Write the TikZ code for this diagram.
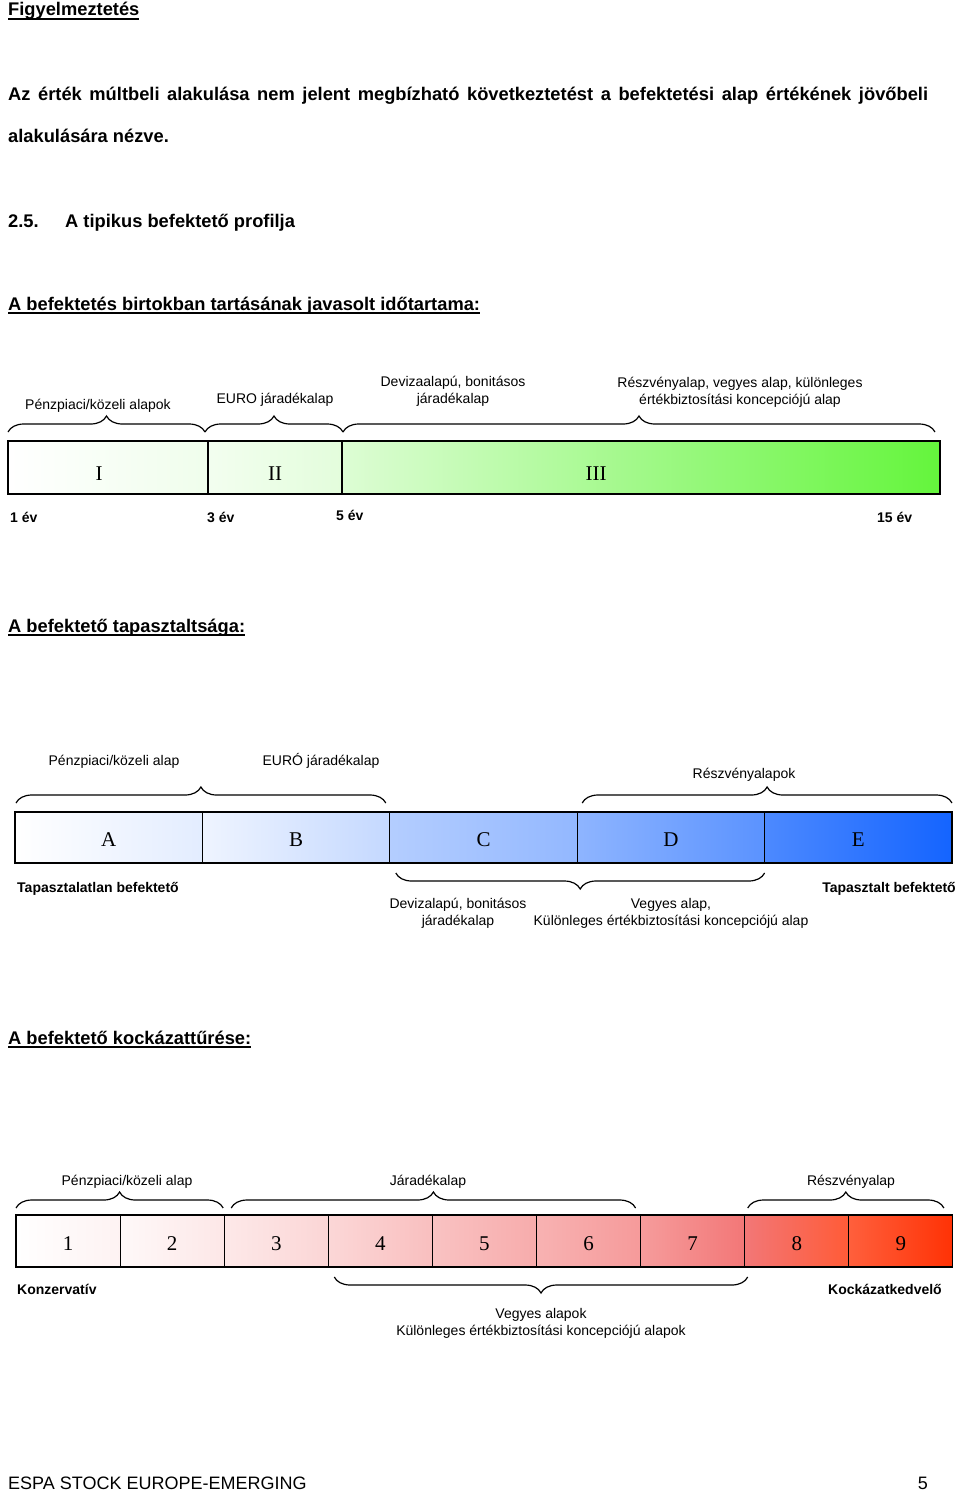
\documentclass[tikz,border=0pt]{standalone}
\usepackage{fontspec}
\usepackage{xcolor}
\usepackage{tikz}
\usetikzlibrary{positioning,decorations.pathreplacing}
\setmainfont{Liberation Sans}
\newfontfamily\timesfont{Liberation Serif}
\definecolor{grnend}{RGB}{100,245,60}
\definecolor{bluend}{RGB}{20,100,255}
\definecolor{redmid}{RGB}{240,95,95}
\definecolor{redend}{RGB}{255,50,5}
\newcommand{\headfont}{\fontsize{18.3}{22}\selectfont\bfseries}
\newcommand{\lblfont}{\fontsize{14}{16.5}\selectfont}
\newcommand{\numfont}{\timesfont\fontsize{21}{24}\selectfont}
\newcommand{\undertext}[1]{\setbox0\hbox{#1}\rlap{\copy0}\rule[-3.5pt]{\wd0}{1.4pt}}
\tikzset{
  head/.style={font=\headfont, inner sep=0pt, anchor=base west},
  lbl/.style={font=\lblfont, align=center, inner sep=0pt, anchor=base},
  blbl/.style={font=\lblfont\bfseries, inner sep=0pt},
  numlbl/.style={font=\numfont, inner sep=0pt, anchor=base},
  cell/.style={draw, line width=1.1pt, outer sep=0pt, inner sep=0pt,
    font=\numfont, text height=18pt, text depth=0pt},
  durcell/.style={cell, minimum height=53pt},
  expcell/.style={cell, minimum height=51pt, minimum width=187.4pt},
  riskcell/.style={cell, minimum height=52pt, minimum width=104.1pt},
  brace/.style={decorate, decoration={brace, amplitude=16pt}, line width=1.2pt},
  bracedown/.style={decorate, decoration={brace, mirror, amplitude=16pt},
    line width=1.2pt}
}

\begin{document}
\begin{tikzpicture}[x=1pt, y=-1pt]
  \useasboundingbox (0,0) rectangle (960,1491);
  \node[head] (warn) at (8,16) {\undertext{Figyelmeztetés}};
  \node[head] (warn1) at (8,100)
    {\makebox[920pt][s]{Az érték múltbeli alakulása nem jelent megbízható következtetést a befektetési alap értékének jövőbeli}};
  \node[head] (warn2) at (8,142) {alakulására nézve.};
  \node[head] (secnum) at (8,227) {2.5.};
  \node[head] (sectitle) at (65,227) {A tipikus befektető profilja};

  \node[head] (durtitle) at (8,310)
    {\undertext{A befektetés birtokban tartásának javasolt időtartama:}};
  \node[lbl] (durlA) at (98,409) {Pénzpiaci/közeli alapok};
  \node[lbl] (durlB) at (275,403) {EURO járadékalap};
  \node[lbl] (durlC) at (453,403) {Devizaalapú, bonitásos\\járadékalap};
  \node[lbl] (durlD) at (740,404)
    {Részvényalap, vegyes alap, különleges\\értékbiztosítási koncepciójú alap};
  \node[durcell, minimum width=200pt, anchor=north west,
    left color=white, right color=grnend!10] (dI) at (8,441) {};
  \node[durcell, minimum width=134pt, right=0pt of dI,
    left color=grnend!8, right color=grnend!18] (dII) {};
  \node[durcell, minimum width=598pt, right=0pt of dII,
    left color=grnend!22, right color=grnend] (dIII) {};
  \node[numlbl] (nI) at (99,480) {I};
  \node[numlbl] (nII) at (275,480) {II};
  \node[numlbl] (nIII) at (596,480) {III};
  \draw[brace] ([yshift=9pt]dI.north west) -- ([xshift=-3pt,yshift=9pt]dI.north east);
  \draw[brace] ([xshift=-3pt,yshift=9pt]dI.north east) -- ([xshift=1pt,yshift=9pt]dII.north east);
  \draw[brace] ([xshift=1pt,yshift=9pt]dII.north east) -- ([xshift=-5pt,yshift=9pt]dIII.north east);
  \node[blbl, anchor=base west] (yr1) at (10,522) {1 év};
  \node[blbl, anchor=base west] (yr3) at (207,522) {3 év};
  \node[blbl, anchor=base west] (yr5) at (336,520) {5 év};
  \node[blbl, anchor=base west] (yr15) at (877,522) {15 év};

  \node[head] (exptitle) at (8,632) {\undertext{A befektető tapasztaltsága:}};
  \node[lbl] (explA) at (114,765) {Pénzpiaci/közeli alap};
  \node[lbl] (explB) at (321,765) {EURÓ járadékalap};
  \node[lbl] (explE) at (744,778) {Részvényalapok};
  \node[expcell, anchor=north west, left color=white, right color=bluend!12] (tA) at (15,812) {A};
  \node[expcell, right=0pt of tA, left color=bluend!7, right color=bluend!25] (tB) {B};
  \node[expcell, right=0pt of tB, left color=bluend!32, right color=bluend!46] (tC) {C};
  \node[expcell, right=0pt of tC, left color=bluend!48, right color=bluend!70] (tD) {D};
  \node[expcell, right=0pt of tD, left color=bluend!76, right color=bluend] (tE) {E};
  \draw[brace] ([xshift=1pt,yshift=9pt]tA.north west) -- ([xshift=-4pt,yshift=9pt]tB.north east);
  \draw[brace] ([xshift=5pt,yshift=9pt]tD.north west) -- ([yshift=9pt]tE.north east);
  \draw[bracedown] ([xshift=6pt,yshift=-10pt]tC.south west) -- ([yshift=-10pt]tD.south east);
  \node[blbl, anchor=base west] (novice) at (17,892) {Tapasztalatlan befektető};
  \node[blbl, anchor=base east] (expert) at (956,892) {Tapasztalt befektető};
  \node[lbl] (explC) at (458,925) {Devizalapú, bonitásos\\járadékalap};
  \node[lbl] (explD) at (671,925)
    {Vegyes alap,\\Különleges értékbiztosítási koncepciójú alap};

  \node[head] (risktitle) at (8,1044) {\undertext{A befektető kockázattűrése:}};
  \node[lbl] (risklA) at (127,1185) {Pénzpiaci/közeli alap};
  \node[lbl] (risklB) at (428,1185) {Járadékalap};
  \node[lbl] (risklC) at (851,1185) {Részvényalap};
  \node[riskcell, anchor=north west, left color=white, right color=redmid!8] (r1) at (16,1215) {1};
  \node[riskcell, right=0pt of r1, left color=redmid!4, right color=redmid!15] (r2) {2};
  \node[riskcell, right=0pt of r2, left color=redmid!14, right color=redmid!26] (r3) {3};
  \node[riskcell, right=0pt of r3, left color=redmid!25, right color=redmid!40] (r4) {4};
  \node[riskcell, right=0pt of r4, left color=redmid!38, right color=redmid!52] (r5) {5};
  \node[riskcell, right=0pt of r5, left color=redmid!48, right color=redmid!63] (r6) {6};
  \node[riskcell, right=0pt of r6, left color=redmid!62, right color=redmid!85] (r7) {7};
  \node[riskcell, right=0pt of r7, left color=redmid!85, right color=redend!80] (r8) {8};
  \node[riskcell, right=0pt of r8, left color=redend!78, right color=redend] (r9) {9};
  \draw[brace] ([yshift=7pt]r1.north west) -- ([xshift=-1pt,yshift=7pt]r2.north east);
  \draw[brace] ([xshift=7pt,yshift=7pt]r3.north west) -- ([xshift=-5pt,yshift=7pt]r6.north east);
  \draw[brace] ([xshift=3pt,yshift=7pt]r8.north west) -- ([xshift=-9pt,yshift=7pt]r9.north east);
  \draw[bracedown] ([xshift=6pt,yshift=-10pt]r4.south west) -- ([xshift=3pt,yshift=-10pt]r7.south east);
  \node[blbl, anchor=base west] (conserv) at (17,1294) {Konzervatív};
  \node[blbl, anchor=base east] (riskseek) at (942,1294) {Kockázatkedvelő};
  \node[lbl] (risklD) at (541,1335)
    {Vegyes alapok\\Különleges értékbiztosítási koncepciójú alapok};

  \node[font=\fontsize{18}{20}\selectfont, inner sep=0pt, anchor=base west] (foot) at (8,1489)
    {ESPA STOCK EUROPE-EMERGING};
  \node[font=\fontsize{18}{20}\selectfont, inner sep=0pt, anchor=base east] (page) at (928,1489) {5};
\end{tikzpicture}
\end{document}
